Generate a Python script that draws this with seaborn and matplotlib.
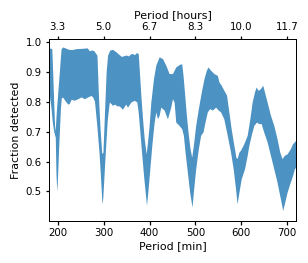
import numpy as np
import matplotlib
matplotlib.use("Agg")
import matplotlib.pyplot as plt
from matplotlib.ticker import FormatStrFormatter
import seaborn as sns

# Upper edge of the band (period [min], fraction)
upper_x = [180, 185, 188, 190, 192, 194.4, 196, 198, 200, 202.4, 204.5, 206.7, 208.2, 212, 218,
           225, 232, 240, 250, 260, 265, 270, 275, 280, 286.4, 290.1, 293.5, 296.6, 298, 299.5,
           303.8, 306.5, 309.6, 314, 320, 325, 330, 335, 340, 345, 350, 355, 360, 364, 368,
           372.6, 376.3, 378.5, 382.1, 385.8, 389.4, 393.7, 396.6, 400.2, 403.9, 409.7, 414.7,
           422, 429.2, 436.5, 443.7, 451, 458.2, 465.4, 471.2, 474.1, 477.8, 481.4, 485.7, 489.4,
           493, 496.6, 501.7, 507.5, 514, 519.8, 524.9, 528.5, 534.3, 541.5, 548.8, 552.4, 557.4,
           563.2, 569, 574, 579, 585, 589.3, 592, 596, 599.5, 606.7, 614, 619.8, 624.8, 630,
           633.5, 637.9, 643, 648, 651.6, 657.4, 664.7, 672, 679, 685, 690, 695, 701, 708, 713,
           717, 720]
upper_y = [0.977, 0.977, 0.975, 0.89, 0.80, 0.70, 0.72, 0.77, 0.81, 0.858, 0.90, 0.947, 0.975,
           0.981, 0.977, 0.973, 0.972, 0.975, 0.976, 0.977, 0.978, 0.968, 0.971, 0.968, 0.953,
           0.800, 0.700, 0.630, 0.625, 0.630, 0.800, 0.900, 0.953, 0.970, 0.973, 0.968, 0.962,
           0.955, 0.949, 0.952, 0.954, 0.951, 0.958, 0.959, 0.955, 0.962, 0.959, 0.909, 0.820,
           0.741, 0.675, 0.624, 0.663, 0.719, 0.797, 0.875, 0.920, 0.948, 0.942, 0.920, 0.892,
           0.892, 0.914, 0.922, 0.925, 0.886, 0.820, 0.753, 0.686, 0.641, 0.613, 0.652, 0.719,
           0.775, 0.831, 0.875, 0.903, 0.914, 0.903, 0.892, 0.886, 0.864, 0.853, 0.836, 0.820,
           0.764, 0.708, 0.652, 0.613, 0.608, 0.630, 0.636, 0.658, 0.686, 0.741, 0.797, 0.831,
           0.847, 0.836, 0.842, 0.853, 0.831, 0.797, 0.753, 0.719, 0.675, 0.630, 0.608, 0.619,
           0.624, 0.641, 0.658, 0.664, 0.670]

# Lower edge of the band
lower_x = [180, 183, 186, 189, 192, 194.4, 195.5, 197, 198.7, 200, 202.4, 204.5, 206.7, 208.5,
           211, 214, 219, 223, 226, 230, 237, 244.4, 251.7, 259, 266, 273.4, 277, 281, 286,
           290.8, 294, 297.3, 299, 304.6, 309, 313.3, 316.9, 320, 325, 330, 335, 342, 349, 353,
           360.4, 367.6, 373.4, 376.3, 380, 383.6, 388, 391.6, 394.5, 397.3, 401.7, 406, 411.1,
           414.7, 418.4, 422, 425.6, 432.9, 440.1, 447.3, 451, 454.6, 458.2, 465.4, 471.2, 474.9,
           478.5, 483.5, 488.6, 493.7, 496.6, 501.7, 507.5, 512.5, 517.6, 522, 527, 532.1, 537.9,
           545.1, 551, 556, 563, 570.5, 577.7, 583.5, 588.6, 592, 596, 601, 608.2, 614, 617.6,
           622.7, 628.5, 634.3, 639.3, 644.4, 650, 657.4, 664.7, 672, 679, 686.4, 691.5, 695, 701,
           708, 713, 717, 720]
lower_y = [0.830, 0.815, 0.780, 0.730, 0.700, 0.685, 0.680, 0.560, 0.500, 0.530, 0.627, 0.700,
           0.775, 0.810, 0.814, 0.808, 0.797, 0.790, 0.792, 0.806, 0.803, 0.808, 0.814, 0.808,
           0.814, 0.819, 0.814, 0.800, 0.720, 0.630, 0.550, 0.457, 0.475, 0.630, 0.740, 0.797,
           0.792, 0.786, 0.790, 0.784, 0.784, 0.773, 0.790, 0.780, 0.797, 0.803, 0.797, 0.764,
           0.697, 0.630, 0.552, 0.496, 0.452, 0.496, 0.574, 0.652, 0.730, 0.764, 0.741, 0.753,
           0.780, 0.770, 0.741, 0.780, 0.808, 0.797, 0.730, 0.719, 0.708, 0.686, 0.630, 0.563,
           0.496, 0.446, 0.496, 0.574, 0.641, 0.686, 0.697, 0.730, 0.764, 0.775, 0.770, 0.780,
           0.770, 0.764, 0.741, 0.686, 0.630, 0.574, 0.507, 0.457, 0.496, 0.541, 0.574, 0.619,
           0.652, 0.686, 0.719, 0.730, 0.725, 0.725, 0.697, 0.664, 0.619, 0.574, 0.530, 0.474,
           0.435, 0.457, 0.496, 0.530, 0.552, 0.574, 0.580]

min_ticks = [200, 300, 400, 500, 600, 700]
y_ticks = [0.5, 0.6, 0.7, 0.8, 0.9, 1.0]

sns.set_theme(style="ticks")
plt.rcParams.update({
    "font.family": ["DejaVu Sans"],
    "font.size": 10,
    "axes.labelsize": 11,
    "xtick.labelsize": 10.2,
    "ytick.labelsize": 10.2,
    "axes.edgecolor": "black",
    "axes.linewidth": 1.0,
    "xtick.color": "black",
    "ytick.color": "black",
    "text.color": "black",
    "axes.labelcolor": "black",
    "xtick.major.size": 3.5,
    "ytick.major.size": 3.5,
})

fig = plt.figure(figsize=(308 / 72, 263 / 72), dpi=72)
ax = fig.add_axes([0.158, 0.161, 0.804, 0.690])

poly_x = np.r_[np.array(upper_x), np.array(lower_x)[::-1]]
poly_y = np.r_[np.array(upper_y), np.array(lower_y)[::-1]]
ax.fill(poly_x, poly_y, color="#1f77b4", alpha=0.8, lw=0)

ax.set_xlim(180, 720)
ax.set_ylim(0.4025, 1.0085)
ax.set_xticks(min_ticks)
ax.set_yticks(y_ticks)
ax.yaxis.set_major_formatter(FormatStrFormatter("%.1f"))
ax.set_xlabel("Period [min]", labelpad=3)
ax.set_ylabel("Fraction detected", labelpad=5)

top = ax.secondary_xaxis("top", functions=(lambda m: m / 60.0, lambda h: h * 60.0))
top.set_xticks([t / 60.0 for t in min_ticks])
top.xaxis.set_major_formatter(FormatStrFormatter("%.1f"))
top.set_xlabel("Period [hours]", labelpad=4)

fig.savefig("out.png", dpi=72)
